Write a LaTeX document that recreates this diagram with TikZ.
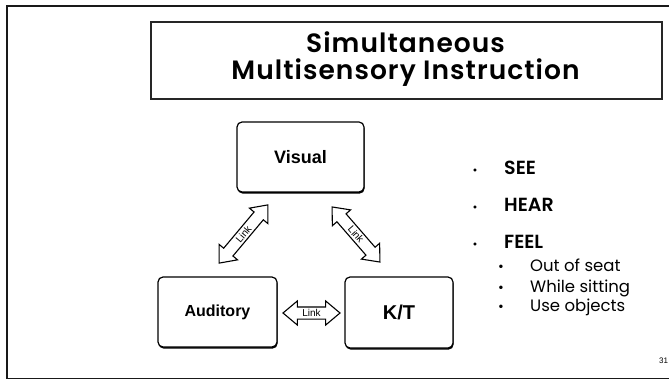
\documentclass[tikz,border=0pt]{standalone}
\usepackage{fontspec}
\setmainfont{Poppins}[BoldFont={Poppins SemiBold}]
\newfontfamily\titlefont{Poppins}[LetterSpace=4, BoldFont={Poppins SemiBold}]
\newfontfamily\arialfont{Liberation Sans}
\usetikzlibrary{shapes.arrows,shadows}

\tikzset{
  sensebox/.style={draw=black, line width=1.2pt, rounded corners=5pt, fill=white,
    inner sep=0pt, font=\arialfont\bfseries,
    drop shadow={shadow xshift=0.6pt, shadow yshift=-1.6pt, fill=black, opacity=1}},
  linkarrow/.style={double arrow, draw=black, line width=1.1pt, fill=white,
    inner xsep=1pt, inner ysep=1pt, font=\arialfont\fontsize{10}{10}\selectfont,
    text height=8pt, text depth=1pt,
    double arrow head extend=6pt, double arrow tip angle=80},
  mainitem/.style={anchor=base west, inner sep=0pt, font=\bfseries\fontsize{19}{19}\selectfont},
  subitem/.style={anchor=base west, inner sep=0pt, font=\fontsize{16.5}{16.5}\selectfont},
  dotmark/.style={anchor=base, inner sep=0pt},
  titleline/.style={anchor=base, inner sep=0pt, font=\titlefont\bfseries\fontsize{26.5}{26.5}\selectfont},
}

\begin{document}
\begin{tikzpicture}[x=1pt,y=-1pt]
  \useasboundingbox (0,0) rectangle (669,379);

  % slide frame
  \begin{scope}
    \clip (0,0) rectangle (669,379);
    \draw[line width=2pt, black!90] (7,6) rectangle (700,378.5);
  \end{scope}

  % title
  \node[draw=black!85, line width=1.4pt, minimum width=511pt, minimum height=77pt,
        inner sep=0pt] (title) at (406.5,60.5) {};
  \node[titleline] (t1) at (405.5,53) {Simultaneous};
  \node[titleline] (t2) at (405.5,80) {Multisensory Instruction};

  % the three sense boxes
  \node[sensebox, minimum width=127pt, minimum height=70pt, font=\arialfont\bfseries\fontsize{18}{18}\selectfont]
        (vis) at (300.5,157) {Visual};
  \node[sensebox, minimum width=119pt, minimum height=70pt, font=\arialfont\bfseries\fontsize{16}{16}\selectfont]
        (aud) at (217.5,312) {Auditory};
  \node[sensebox, minimum width=108pt, minimum height=71pt, font=\arialfont\bfseries\fontsize{20}{20}\selectfont]
        (kt) at (399,312.5) {K/T};

  % links between the boxes
  \node[linkarrow, minimum height=76pt, rotate=50] (lvisaud) at (243.5,234) {Link};
  \node[linkarrow, minimum height=73pt, rotate=-49] (lviskt) at (356,234.5) {Link};
  \node[linkarrow, minimum height=57pt] (laudkt) at (311.5,313) {Link};

  % bullet list
  \node[dotmark, font=\fontsize{12}{12}\selectfont] (d1) at (475,175) {•};
  \node[mainitem] (see) at (504,175) {SEE};
  \node[dotmark, font=\fontsize{12}{12}\selectfont] (d2) at (475,212) {•};
  \node[mainitem] (hear) at (504,212) {HEAR};
  \node[dotmark, font=\fontsize{12}{12}\selectfont] (d3) at (475,249) {•};
  \node[mainitem] (feel) at (504,249) {FEEL};

  \node[dotmark, font=\fontsize{14}{14}\selectfont] (s1) at (501,271.5) {•};
  \node[subitem] (out) at (530,271.5) {Out of seat};
  \node[dotmark, font=\fontsize{14}{14}\selectfont] (s2) at (501,292) {•};
  \node[subitem] (sit) at (530,292) {While sitting};
  \node[dotmark, font=\fontsize{14}{14}\selectfont] (s3) at (501,312) {•};
  \node[subitem] (obj) at (530,312) {Use objects};

  % page number
  \node[anchor=base west, inner sep=0pt, font=\arialfont\fontsize{8}{8}\selectfont]
        (pg) at (659,363) {31};
\end{tikzpicture}
\end{document}
